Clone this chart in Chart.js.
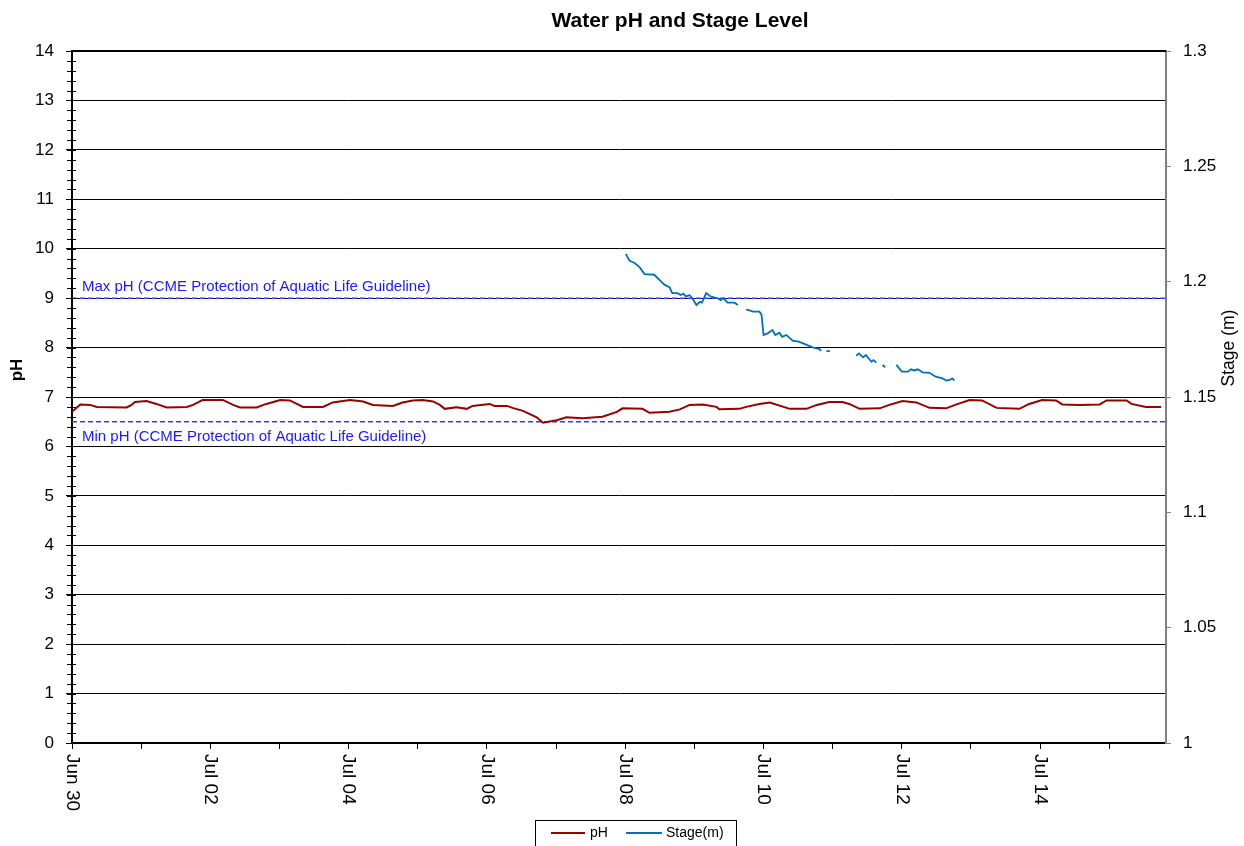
<!DOCTYPE html>
<html>
<head>
<meta charset="utf-8">
<title>Water pH and Stage Level</title>
<script src="https://cdn.jsdelivr.net/npm/chart.js@4.4.1/dist/chart.umd.min.js"></script>
<style>
    body { margin: 0; background: #fff; }
    #wrap { width: 1244px; height: 846px; position: relative; }
</style>
</head>
<body>
<div id="wrap"><canvas id="phChart"></canvas></div>
<script>
// Time is in days since Jun 30 00:00
const phDays = [0.00, 0.12, 0.26, 0.36, 0.79, 0.86, 0.91, 1.08, 1.22, 1.37, 1.66, 1.75, 1.89, 2.18, 2.33, 2.43,
    2.67, 2.81, 3.01, 3.15, 3.34, 3.63, 3.77, 4.02, 4.21, 4.35, 4.64, 4.78, 4.93, 5.07, 5.22, 5.32,
    5.39, 5.56, 5.71, 5.79, 6.04, 6.11, 6.29, 6.37, 6.52, 6.72, 6.81, 7.01, 7.15, 7.38, 7.67, 7.88,
    7.96, 8.25, 8.35, 8.64, 8.79, 8.93, 9.12, 9.32, 9.36, 9.65, 9.75, 9.94, 10.09, 10.38, 10.62, 10.77,
    10.95, 11.14, 11.24, 11.39, 11.68, 11.82, 12.01, 12.21, 12.40, 12.64, 12.79, 12.98, 13.16, 13.37,
    13.70, 13.84, 14.03, 14.23, 14.32, 14.57, 14.86, 14.96, 15.25, 15.32, 15.53, 15.75];
const phValues = [6.70, 6.85, 6.84, 6.80, 6.79, 6.84, 6.90, 6.92, 6.86, 6.79, 6.80, 6.84, 6.94, 6.94, 6.84, 6.79,
    6.79, 6.86, 6.94, 6.93, 6.80, 6.80, 6.89, 6.94, 6.91, 6.84, 6.82, 6.89, 6.93, 6.94, 6.91, 6.84,
    6.76, 6.79, 6.76, 6.82, 6.86, 6.82, 6.82, 6.78, 6.72, 6.59, 6.48, 6.53, 6.59, 6.57, 6.60, 6.70,
    6.77, 6.76, 6.68, 6.70, 6.75, 6.84, 6.85, 6.80, 6.75, 6.76, 6.80, 6.86, 6.89, 6.76, 6.76, 6.84,
    6.90, 6.90, 6.86, 6.76, 6.77, 6.84, 6.92, 6.89, 6.78, 6.77, 6.85, 6.94, 6.93, 6.78,
    6.76, 6.86, 6.94, 6.93, 6.85, 6.84, 6.85, 6.93, 6.93, 6.86, 6.80, 6.80];

// Stage (m); null = missing readings
const stageDays = [8.01, 8.06, 8.14, 8.21, 8.28, 8.42, 8.52, 8.57, 8.64, 8.68, 8.76, 8.80, 8.84, 8.88, 8.93, 8.98,
    9.03, 9.08, 9.11, 9.17, 9.24, 9.34, 9.38, 9.42, 9.48, 9.58, 9.63, 9.70, 9.75, 9.85, 9.94, 9.97,
    10.00, 10.06, 10.13, 10.17, 10.23, 10.27, 10.33, 10.42, 10.51, 10.59, 10.71, 10.81, 10.83, 10.86,
    10.91, 10.96, 11.20, 11.34, 11.38, 11.44, 11.48, 11.56, 11.59, 11.63, 11.66, 11.72, 11.76, 11.85,
    11.92, 12.00, 12.09, 12.13, 12.18, 12.23, 12.30, 12.40, 12.49, 12.59, 12.64, 12.69, 12.73, 12.76];
const stageValues = [1.2120, 1.2091, 1.2080, 1.2062, 1.2033, 1.2030, 1.2000, 1.1986, 1.1976, 1.1950, 1.1950, 1.1942, 1.1948, 1.1935, 1.1942, 1.1924,
    1.1899, 1.1913, 1.1909, 1.1950, 1.1935, 1.1928, 1.1920, 1.1928, 1.1909, 1.1909, 1.1899, null, 1.1880, 1.1870, 1.1870, 1.1858,
    1.1769, 1.1776, 1.1790, 1.1769, 1.1779, 1.1761, 1.1769, 1.1744, 1.1740, 1.1730, 1.1715, 1.1708, 1.1699, null,
    1.1699, 1.1699, null, 1.1678, 1.1689, 1.1672, 1.1682, 1.1653, 1.1660, 1.1649, null, 1.1639, 1.1629, null,
    1.1639, 1.1610, 1.1610, 1.1620, 1.1615, 1.1620, 1.1607, 1.1605, 1.1588, 1.1581, 1.1571, 1.1574, 1.1581, 1.1571];

const guideMax = 9;
const guideMin = 6.5;
const xTickDays = [0, 2, 4, 6, 8, 10, 12, 14];
const xTickLabels = ['Jun 30', 'Jul 02', 'Jul 04', 'Jul 06', 'Jul 08', 'Jul 10', 'Jul 12', 'Jul 14'];
const dayMax = 15.82;

const FONT = '"Liberation Sans", Arial, sans-serif';

const toPoints = (xs, ys) => xs.map((x, i) => ({ x: x, y: ys[i] }));

// Extra drawing: minor ticks, rotated date labels, titles, guideline text, legend
const decor = {
    id: 'decor',
    afterDraw(chart) {
        const ctx = chart.ctx;
        const y = chart.scales.y;
        const x = chart.scales.x;
        ctx.save();

        // minor ticks on pH axis
        ctx.strokeStyle = '#000';
        ctx.lineWidth = 1;
        for (let i = 0; i <= 70; i++) {
            const py = Math.round(y.getPixelForValue(i * 0.2)) + 0.5;
            ctx.beginPath();
            ctx.moveTo(67, py);
            ctx.lineTo(76, py);
            ctx.stroke();
        }

        // top border a bit heavier
        ctx.lineWidth = 2;
        ctx.beginPath();
        ctx.moveTo(chart.chartArea.left, chart.chartArea.top);
        ctx.lineTo(chart.chartArea.right, chart.chartArea.top);
        ctx.stroke();

        // date labels, rotated clockwise
        ctx.fillStyle = '#000';
        ctx.font = '19px ' + FONT;
        ctx.textAlign = 'left';
        ctx.textBaseline = 'middle';
        xTickDays.forEach((d, i) => {
            ctx.save();
            ctx.translate(x.getPixelForValue(d), 754);
            ctx.rotate(Math.PI / 2);
            ctx.fillText(xTickLabels[i], 0, 0);
            ctx.restore();
        });

        // chart title
        ctx.textAlign = 'center';
        ctx.font = 'bold 21px ' + FONT;
        ctx.fillText('Water pH and Stage Level', 680, 21);

        // axis titles
        ctx.save();
        ctx.translate(17, 370);
        ctx.rotate(-Math.PI / 2);
        ctx.font = 'bold 17px ' + FONT;
        ctx.fillText('pH', 0, 0);
        ctx.restore();
        ctx.save();
        ctx.translate(1229, 348);
        ctx.rotate(-Math.PI / 2);
        ctx.font = '17.5px ' + FONT;
        ctx.fillText('Stage (m)', 0, 0);
        ctx.restore();

        // guideline labels
        ctx.fillStyle = '#1a1aff';
        ctx.font = '15px ' + FONT;
        ctx.textAlign = 'left';
        ctx.fillText('Max pH (CCME Protection of Aquatic Life Guideline)', 82, y.getPixelForValue(guideMax) - 11);
        ctx.fillText('Min pH (CCME Protection of Aquatic Life Guideline)', 82, y.getPixelForValue(guideMin) + 15);

        // legend
        ctx.lineWidth = 1;
        ctx.strokeStyle = '#000';
        ctx.strokeRect(535.5, 820.5, 201, 30);
        ctx.font = '14px ' + FONT;
        ctx.fillStyle = '#000';
        ctx.lineWidth = 2;
        ctx.strokeStyle = '#990000';
        ctx.beginPath(); ctx.moveTo(551, 833); ctx.lineTo(585, 833); ctx.stroke();
        ctx.fillText('pH', 590, 833);
        ctx.strokeStyle = '#0070c0';
        ctx.beginPath(); ctx.moveTo(626, 833); ctx.lineTo(662, 833); ctx.stroke();
        ctx.fillText('Stage(m)', 666, 833);

        ctx.restore();
    }
};

const ctx = document.getElementById('phChart').getContext('2d');
new Chart(ctx, {
    type: 'line',
    data: {
        datasets: [
            {
                label: 'pH',
                data: toPoints(phDays, phValues),
                borderColor: '#990000',
                borderWidth: 2,
                yAxisID: 'y'
            },
            {
                label: 'Stage(m)',
                data: toPoints(stageDays, stageValues),
                borderColor: '#0070c0',
                borderWidth: 1.8,
                spanGaps: false,
                yAxisID: 'y2'
            },
            {
                label: 'Max pH',
                data: [{ x: 0, y: guideMax }, { x: dayMax, y: guideMax }],
                borderColor: '#3a3aff',
                borderWidth: 1.5,
                borderDash: [5, 3],
                yAxisID: 'y'
            },
            {
                label: 'Min pH',
                data: [{ x: 0, y: guideMin }, { x: dayMax, y: guideMin }],
                borderColor: '#3a3aff',
                borderWidth: 1.5,
                borderDash: [5, 3],
                yAxisID: 'y'
            }
        ]
    },
    options: {
        responsive: true,
        maintainAspectRatio: false,
        animation: false,
        layout: { padding: { top: 51, left: 0, right: 0, bottom: 0 } },
        elements: { point: { radius: 0 }, line: { tension: 0 } },
        plugins: {
            legend: { display: false },
            title: { display: false },
            tooltip: { enabled: false }
        },
        scales: {
            x: {
                type: 'linear',
                min: 0,
                max: dayMax,
                ticks: { stepSize: 1, display: false, includeBounds: false },
                grid: { drawOnChartArea: false, drawTicks: true, tickLength: 6, color: '#000' },
                border: { color: '#000', width: 2 },
                afterFit: s => { s.height = 103; }
            },
            y: {
                position: 'left',
                min: 0,
                max: 14,
                ticks: { stepSize: 1, color: '#000', padding: 12, font: { family: FONT, size: 17 } },
                grid: { color: '#000', lineWidth: 1, tickLength: 6 },
                border: { color: '#000', width: 2 },
                afterFit: s => { s.width = 72; }
            },
            y2: {
                position: 'right',
                min: 1,
                max: 1.3,
                ticks: {
                    stepSize: 0.05,
                    color: '#000',
                    padding: 12,
                    font: { family: FONT, size: 17 },
                    callback: v => String(Math.round(v * 100) / 100)
                },
                grid: { drawOnChartArea: false, color: '#808080', tickLength: 5 },
                border: { color: '#808080', width: 2 },
                afterFit: s => { s.width = 78; }
            }
        }
    },
    plugins: [decor]
});
</script>
</body>
</html>
